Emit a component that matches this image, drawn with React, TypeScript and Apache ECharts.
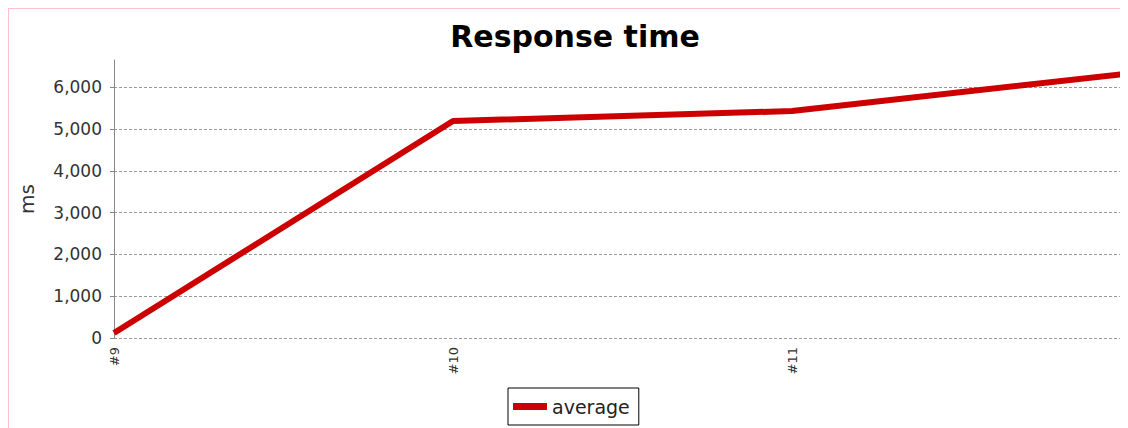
import React, { useEffect, useRef } from "react";
import * as echarts from "echarts";

const categories = ["#9", "#10", "#11", "#12"];
const averageValues = [120, 5190, 5430, 6335];
const yTicks = [0, 1000, 2000, 3000, 4000, 5000, 6000];
const yMax = 6650;
const seriesName = "average";
const titleText = "Response time";
const yAxisName = "ms";

export default function App() {
  const ref = useRef<HTMLDivElement>(null);
  useEffect(() => {
    document.body.style.overflow = "hidden";
    if (!ref.current) return;
    const chart = echarts.init(ref.current, null, { renderer: "svg" });
    chart.setOption({
      animation: false,
      backgroundColor: "#ffffff",
      textStyle: { fontFamily: "DejaVu Sans" },
      title: {
        text: titleText,
        left: 561,
        textAlign: "center",
        top: 7,
        textStyle: { fontFamily: "DejaVu Sans", fontWeight: "bold", fontSize: 30, color: "#000" },
      },
      legend: {
        data: [seriesName],
        left: 499,
        top: 379,
        orient: "horizontal",
        icon: "rect",
        itemWidth: 34,
        itemHeight: 7,
        padding: [9, 9, 9, 5],
        borderColor: "#000",
        borderWidth: 1,
        textStyle: { fontFamily: "DejaVu Sans", fontSize: 19, color: "#222" },
      },
      grid: { left: 102, top: 51, right: 178, bottom: 101, containLabel: false },
      xAxis: {
        type: "category",
        data: categories,
        boundaryGap: false,
        axisLine: { show: false },
        axisTick: { show: false },
        axisLabel: { rotate: 90, margin: 9, fontSize: 13, color: "#333", fontFamily: "DejaVu Sans" },
        splitLine: { show: false },
      },
      yAxis: {
        type: "value",
        min: 0,
        max: yMax,
        interval: 1000,
        name: yAxisName,
        nameLocation: "middle",
        nameGap: 77,
        nameRotate: 90,
        nameTextStyle: { fontFamily: "DejaVu Sans", fontSize: 20, color: "#333" },
        axisLine: { show: true, lineStyle: { color: "#888", width: 1 } },
        axisTick: { show: true, length: 4, lineStyle: { color: "#888" }, customValues: yTicks },
        axisLabel: {
          customValues: yTicks,
          margin: 12,
          fontSize: 17,
          color: "#333",
          fontFamily: "DejaVu Sans",
          formatter: (v: number) => v.toLocaleString("en-US"),
        },
        splitLine: { show: true, lineStyle: { color: "#999", width: 1, type: [3, 2] } },
      },
      series: [
        {
          name: seriesName,
          type: "line",
          data: averageValues,
          symbol: "none",
          lineStyle: { color: "#cc0000", width: 6 },
          itemStyle: { color: "#cc0000" },
        },
      ],
    });
    return () => chart.dispose();
  }, []);
  return (
    <div
      style={{
        width: 1120,
        height: 420,
        overflow: "hidden",
        borderTop: "1px solid #ffc0cb",
        borderLeft: "1px solid #ffc0cb",
        boxSizing: "border-box",
      }}
    >
      <div ref={ref} style={{ width: 1300, height: 430 }} />
    </div>
  );
}
